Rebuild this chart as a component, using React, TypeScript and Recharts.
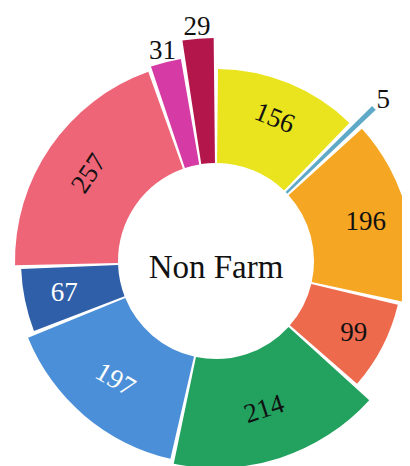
import React from 'react'
import { PieChart, Pie, Cell } from 'recharts'

// Slices, clockwise from 12 o'clock
const values = [156, 5, 196, 99, 214, 197, 67, 257, 31, 29]
const names = ['A', 'B', 'C', 'D', 'E', 'F', 'G', 'H', 'I', 'J']
const centerTitle = 'Non Farm'

// styling (not data)
const COLORS = ['#eae41f', '#5ea9c7', '#f5a623', '#ee6a4d', '#22a15f', '#4b8fd8', '#2f5fa8', '#ee6578', '#d63aa4', '#b3164a']
const OUTER = [192, 220, 197, 187, 207, 203, 195, 201, 205, 223]
const LABEL_FILL = ['#111', '#111', '#111', '#111', '#111', '#fff', '#fff', '#111', '#111', '#111']
const LABEL_ROT = [22, 0, 0, 0, -18, 30, 0, -56, 0, 0]
const INNER = 98
const RAD = Math.PI / 180
const FONT = '"Liberation Serif", "DejaVu Serif", serif'

const data = values.map((v, i) => ({ name: names[i], value: v }))

function makeLabel(idx: number) {
  return (p: any) => {
    if (p.index !== idx) return null
    const outside = p.value < 50
    const r = outside ? p.outerRadius + 13 : 155
    const x = p.cx + r * Math.cos(-p.midAngle * RAD)
    const y = p.cy + r * Math.sin(-p.midAngle * RAD)
    return (
      <g>
        <text
          x={x}
          y={y}
          fill={LABEL_FILL[idx]}
          fontSize={27}
          fontFamily={FONT}
          textAnchor="middle"
          dominantBaseline="central"
          transform={`rotate(${LABEL_ROT[idx]} ${x} ${y})`}
        >
          {p.value}
        </text>
        {idx === 0 && (
          <text x={p.cx} y={p.cy + 6} textAnchor="middle" dominantBaseline="central"
            fontSize={33} fontFamily={FONT} fill="#111">
            {centerTitle}
          </text>
        )}
      </g>
    )
  }
}

export default function App() {
  return (
    <PieChart width={402} height={458}>
      {values.map((_, i) => (
        <Pie
          key={i}
          data={data}
          dataKey="value"
          nameKey="name"
          cx={203}
          cy={248}
          innerRadius={INNER}
          outerRadius={OUTER[i]}
          startAngle={89.4}
          endAngle={-270.6}
          paddingAngle={1.2}
          stroke="none"
          isAnimationActive={false}
          labelLine={false}
          label={makeLabel(i)}
        >
          {data.map((_, j) => (
            <Cell key={j} fill={j === i ? COLORS[i] : 'none'} stroke="none" />
          ))}
        </Pie>
      ))}
    </PieChart>
  )
}
